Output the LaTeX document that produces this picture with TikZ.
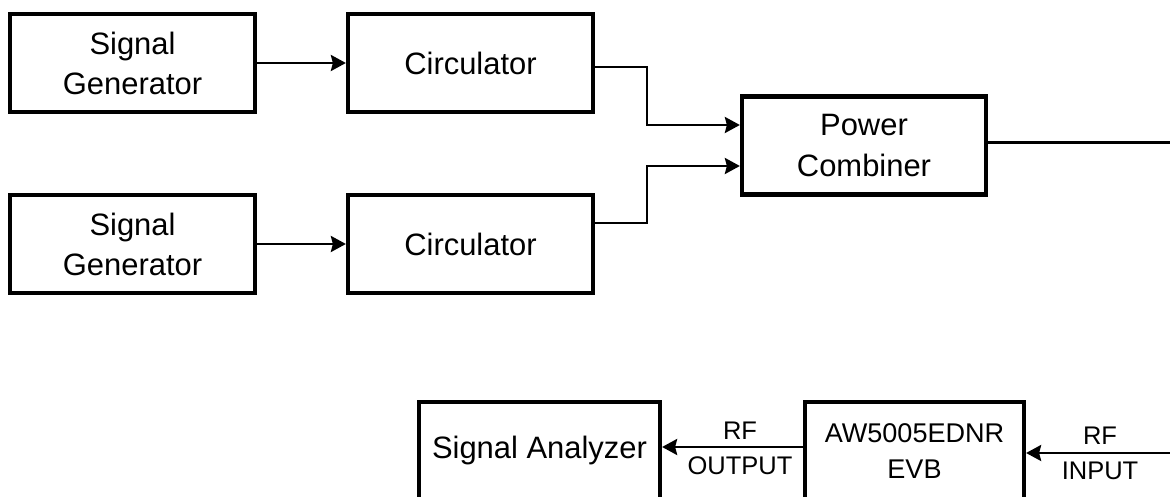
\documentclass[tikz,border=0pt]{standalone}
\usepackage{fontspec}
\setmainfont{Liberation Sans}
\usetikzlibrary{arrows.meta}

\begin{document}
\begin{tikzpicture}[>={Stealth[length=0.3cm,width=0.32cm,inset=0.04cm]},
		blk/.style={draw,line width=0.085cm,minimum width=4.9cm,minimum height=1.96cm,
			align=center,font=\fontsize{17.6}{22.8}\selectfont},
		wire/.style={line width=0.05cm},
		lbl/.style={align=center,inner sep=0pt,font=\fontsize{14.5}{19.9}\selectfont}]
	\useasboundingbox (0,0) rectangle (23.4,9.94);
	\clip (0,0) rectangle (23.4,9.94);
	% sources
	\node[blk] (gen1) at (2.65,8.68) {Signal\\Generator};
	\node[blk] (circ1) at (9.41,8.68) {Circulator};
	\node[blk] (gen2) at (2.65,5.06) {Signal\\Generator};
	\node[blk] (circ2) at (9.41,5.06) {Circulator};
	\node[blk,minimum width=4.88cm] (comb) at (17.28,7.03) {Power\\Combiner};
	% test bench
	\node[blk,minimum width=4.82cm] (sa) at (10.79,0.92) {Signal Analyzer};
	\node[blk,minimum width=4.38cm,font=\fontsize{15.4}{20}\selectfont] (evb) at (18.29,0.92) {AW5005EDNR\\EVB};
	\node[lbl] (rfo) at (14.8,0.97) {RF\\OUTPUT};
	\node[lbl] (rfi) at (22.0,0.87) {RF\\INPUT};
	\coordinate (j1) at (12.94,7.44);
	\coordinate (j2) at (12.94,6.62);
	\coordinate (cout) at (23.6,7.09);
	\coordinate (rfin) at (23.6,0.88);
	\draw[wire,->] (gen1) -- (circ1);
	\draw[wire,->] (gen2) -- (circ2);
	\draw[wire,->] ([yshift=-0.08cm]circ1.east) -| (j1) -- (j1 -| comb.west);
	\draw[wire,->] ([yshift=0.42cm]circ2.east) -| (j2) -- (j2 -| comb.west);
	\draw[wire] (cout -| comb.east) -- (cout);
	\draw[wire,->] (rfin) -- (rfin -| evb.east);
	\draw[wire,->] ([yshift=0.08cm]evb.west) -- ([yshift=0.08cm]sa.east);
\end{tikzpicture}
\end{document}
